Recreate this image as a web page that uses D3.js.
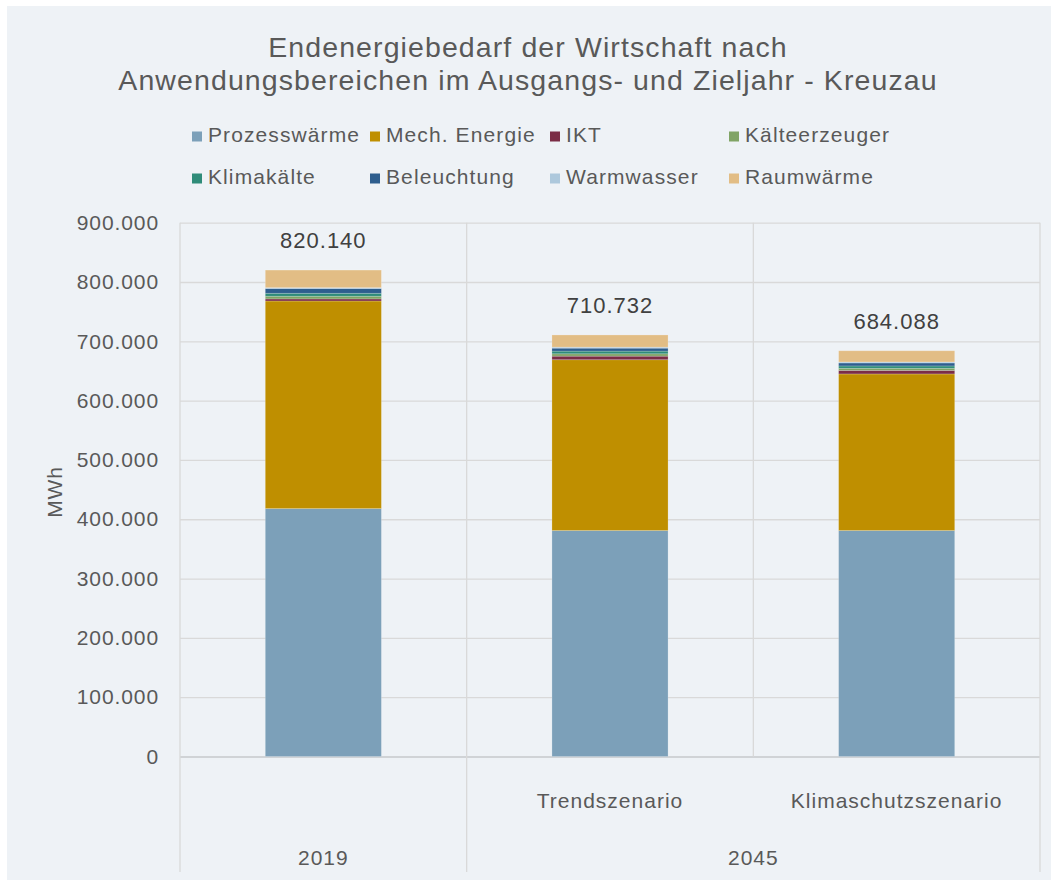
<!DOCTYPE html>
<html>
<head>
<meta charset="utf-8">
<script src="https://cdn.jsdelivr.net/npm/d3@7"></script>
<style>
  html, body { margin: 0; padding: 0; background: #ffffff; }
  svg { display: block; font-family: "Liberation Sans", Arial, sans-serif; }
</style>
</head>
<body>
<svg id="chart" width="1056" height="880"></svg>
<script>
// ---- data ----
const categories = ["2019", "Trendszenario", "Klimaschutzszenario"];
const subLabels = ["", "Trendszenario", "Klimaschutzszenario"];
const groupLabels = ["2019", "2045"];
const groupSpans = [[0, 0], [1, 2]];
const seriesNames = ["Prozesswärme", "Mech. Energie", "IKT", "Kälteerzeuger", "Klimakälte", "Beleuchtung", "Warmwasser", "Raumwärme"];
const prozesswaerme = [418000, 381000, 381000];
const mechEnergie   = [350000, 288000, 264000];
const ikt           = [3500, 6000, 6000];
const kaelteerzeuger= [4500, 4000, 3500];
const klimakaelte   = [5000, 4500, 4000];
const beleuchtung   = [8000, 5000, 5000];
const warmwasser    = [1500, 1700, 1700];
const raumwaerme    = [29640, 20532, 18888];
const totals = [820140, 710732, 684088];
const yTicks = [0, 100000, 200000, 300000, 400000, 500000, 600000, 700000, 800000, 900000];
const colors = ["#7ca0b9", "#bf8f00", "#7b2d46", "#80a465", "#2f8c79", "#2e5e8e", "#adc8dc", "#e2bd85"];
const title = ["Endenergiebedarf der Wirtschaft nach", "Anwendungsbereichen im Ausgangs- und Zieljahr - Kreuzau"];
const yTitle = "MWh";

const seriesValues = [prozesswaerme, mechEnergie, ikt, kaelteerzeuger, klimakaelte, beleuchtung, warmwasser, raumwaerme];
const rows = categories.map((c, i) => {
  const r = { cat: c };
  seriesNames.forEach((s, j) => r[s] = seriesValues[j][i]);
  return r;
});

const svg = d3.select("#chart");
const textColor = "#595959";
const gridColor = "#d9d9d9";

svg.append("rect").attr("x", 7).attr("y", 6).attr("width", 1044).attr("height", 874).attr("fill", "#eef2f6");

const pLeft = 180, pRight = 1040, pTop = 222.7, pBottom = 756.5;
const x = d3.scaleBand().domain(categories).range([pLeft, pRight]).paddingInner(0.595).paddingOuter(0.2975);
const step = (pRight - pLeft) / categories.length;
const y = d3.scaleLinear().domain([0, 900000]).range([pBottom, pTop]);
const loc = d3.formatLocale({ decimal: ",", thousands: ".", grouping: [3], currency: ["", "€"] });
const fmt = loc.format(",");

// title
svg.append("g").selectAll("text").data(title).join("text")
  .attr("x", 528).attr("y", (d, i) => 57 + i * 33)
  .attr("text-anchor", "middle").attr("font-size", 28.5).attr("letter-spacing", 1.1)
  .attr("fill", textColor).text(d => d);

// legend
const legCols = [192, 370, 550, 729];
const leg = svg.append("g").selectAll("g").data(seriesNames).join("g")
  .attr("transform", (d, i) => `translate(${legCols[i % 4]},${i < 4 ? 131.5 : 173.5})`);
leg.append("rect").attr("width", 10).attr("height", 10).attr("fill", (d, i) => colors[i]);
leg.append("text").attr("x", 16).attr("y", 10.5).attr("font-size", 21).attr("letter-spacing", 1.1)
  .attr("fill", textColor).text(d => d);

// gridlines
const yAxisGrid = d3.axisLeft(y).tickValues(yTicks).tickSize(-(pRight - pLeft)).tickFormat("");
const gg = svg.append("g").attr("transform", `translate(${pLeft},0)`).call(yAxisGrid);
gg.select(".domain").remove();
gg.selectAll("line").attr("stroke", gridColor).attr("stroke-width", 1.3);
gg.selectAll(".tick").filter(d => d === 0).select("line").attr("stroke", "#d0d3d6").attr("stroke-width", 2);

// y tick labels
const yAxis = d3.axisLeft(y).tickValues(yTicks).tickSize(0).tickPadding(0).tickFormat(d => fmt(d));
const ya = svg.append("g").attr("transform", `translate(159,0)`).call(yAxis);
ya.select(".domain").remove();
ya.selectAll("text").attr("font-size", 21).attr("letter-spacing", 0.9).attr("fill", textColor)
  .attr("font-family", "Liberation Sans, Arial, sans-serif");

// y title
svg.append("text").attr("transform", "translate(62,492) rotate(-90)").attr("text-anchor", "middle")
  .attr("font-size", 21).attr("letter-spacing", 0.9).attr("fill", textColor).text(yTitle);

// vertical separators
const seps = [
  { x: pLeft, y2: 872 },
  { x: pLeft + step, y2: 872 },
  { x: pLeft + 2 * step, y2: pBottom },
  { x: pRight, y2: 872 }
];
svg.append("g").selectAll("line").data(seps).join("line")
  .attr("x1", d => d.x).attr("x2", d => d.x).attr("y1", pTop).attr("y2", d => d.y2)
  .attr("stroke", gridColor).attr("stroke-width", 1.3);

// bars
const stack = d3.stack().keys(seriesNames)(rows);
svg.append("g").selectAll("g").data(stack).join("g")
  .attr("fill", (d, i) => colors[i])
  .selectAll("rect").data(d => d).join("rect")
  .attr("x", d => x(d.data.cat)).attr("width", x.bandwidth())
  .attr("y", d => y(d[1])).attr("height", d => y(d[0]) - y(d[1]))
  .attr("stroke", "#ffffff").attr("stroke-opacity", 0.25).attr("stroke-width", 0.8);

// total labels
svg.append("g").selectAll("text").data(categories).join("text")
  .attr("x", d => x(d) + x.bandwidth() / 2).attr("y", (d, i) => y(totals[i]) - 22)
  .attr("text-anchor", "middle").attr("font-size", 22).attr("letter-spacing", 1)
  .attr("fill", "#404040").text((d, i) => fmt(totals[i]));

// sub category labels
svg.append("g").selectAll("text").data(subLabels).join("text")
  .attr("x", (d, i) => pLeft + step * (i + 0.5)).attr("y", 808)
  .attr("text-anchor", "middle").attr("font-size", 21).attr("letter-spacing", 1)
  .attr("fill", textColor).text(d => d);

// group labels
svg.append("g").selectAll("text").data(groupLabels).join("text")
  .attr("x", (d, i) => pLeft + step * ((groupSpans[i][0] + groupSpans[i][1]) / 2 + 0.5)).attr("y", 865)
  .attr("text-anchor", "middle").attr("font-size", 21).attr("letter-spacing", 1)
  .attr("fill", textColor).text(d => d);
</script>
</body>
</html>
